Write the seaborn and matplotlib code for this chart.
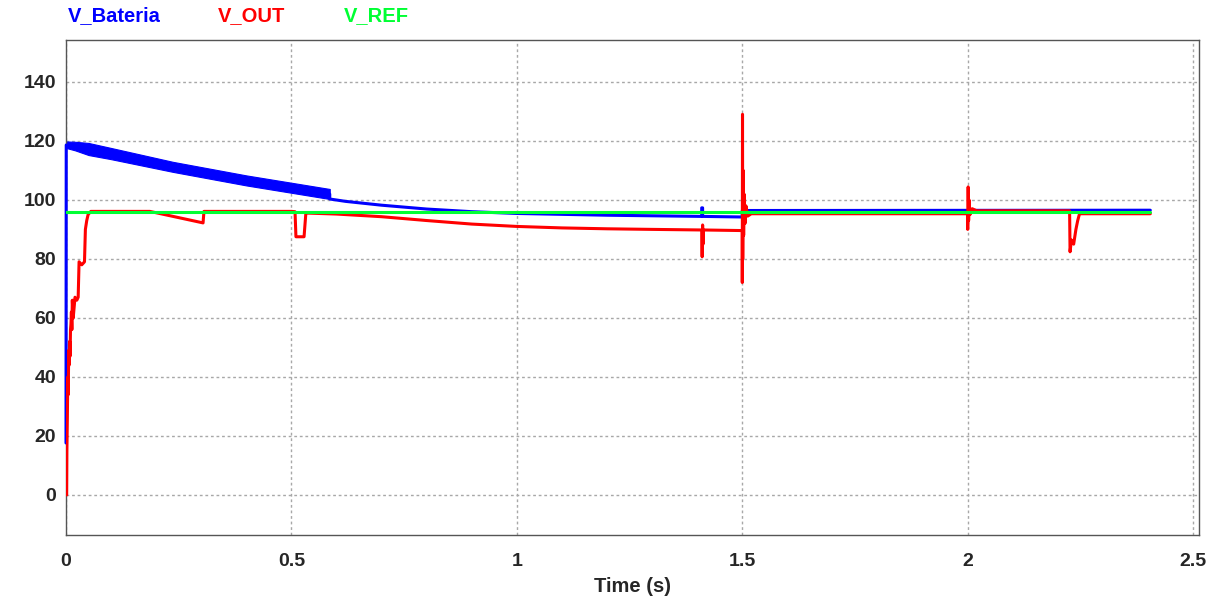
import matplotlib
matplotlib.use('Agg')
import matplotlib.pyplot as plt
import seaborn as sns
import pandas as pd

# V_Bateria: vertical start, ripple band (envelope), then smooth line
bat_t = [0, 0.0005, 0.585, 0.585, 0.62, 0.7, 0.8, 0.9, 1.0, 1.2, 1.41, 1.41, 1.412, 1.412, 1.5, 1.5, 2.405]
bat_v = [17.6, 118.6, 102.0, 100.3, 99.5, 98.2, 96.9, 96.0, 95.4, 94.8, 94.4, 97.3, 97.3, 94.4, 94.2, 96.4, 96.5]
band_t = [0.0005, 0.02, 0.05, 0.1, 0.237, 0.4, 0.585]
band_hi = [119.8, 119.7, 119.3, 117.6, 112.9, 108.3, 103.7]
band_lo = [117.6, 116.8, 115.2, 113.8, 109.5, 104.9, 100.3]

# V_OUT
out_t = [0, 0.0015, 0.002, 0.003, 0.004, 0.005, 0.006, 0.007, 0.008, 0.009, 0.010, 0.011,
         0.012, 0.013, 0.014, 0.016, 0.020, 0.024, 0.027, 0.029, 0.035, 0.041, 0.043, 0.046,
         0.049, 0.055,
         0.1, 0.186, 0.304, 0.306, 0.5, 0.508, 0.51, 0.528, 0.532, 0.54, 0.6, 0.7, 0.8, 0.9,
         1.0, 1.1, 1.2, 1.3, 1.41, 1.411, 1.412, 1.413, 1.414, 1.5,
         1.5, 1.5005, 1.501, 1.502, 1.503, 1.504, 1.506, 1.508, 1.512, 1.52,
         2.0, 2.0, 2.001, 2.002, 2.003, 2.005, 2.01, 2.02,
         2.226, 2.227, 2.23, 2.235, 2.24, 2.244, 2.248, 2.26, 2.405]
out_v = [0, 0, 15, 26, 40, 34, 49, 44, 52, 47, 56, 58,
         62, 56, 66, 60, 67, 66, 67, 79, 78, 79, 90, 93,
         95, 96.1,
         96.1, 96.1, 92.2, 96.1, 96.1, 96.0, 87.5, 87.5, 95.5, 95.5, 95.2, 94.3, 93.0, 91.8,
         91.0, 90.5, 90.2, 90.0, 89.8, 80.7, 91.5, 85.0, 89.8, 89.6,
         72.0, 129.0, 80.0, 110.0, 88.0, 102.0, 92.0, 98.0, 94.5, 95.3,
         95.3, 90.0, 104.4, 93.0, 100.0, 95.0, 97.0, 96.3,
         96.3, 82.4, 86.4, 85.0, 90.0, 93.0, 95.3, 95.3, 95.3]

# V_REF
ref_t = [0, 2.405]
ref_v = [96, 96]

y_ticks = [0, 20, 40, 60, 80, 100, 120, 140]
x_ticks = [0, 0.5, 1, 1.5, 2, 2.5]
x_labels = ['0', '0.5', '1', '1.5', '2', '2.5']

sns.set_style('white')
plt.rcParams['font.family'] = ['Liberation Sans', 'DejaVu Sans']
plt.rcParams['font.weight'] = 'bold'

fig = plt.figure(figsize=(12.09, 6.03), dpi=100)
ax = fig.add_axes([66 / 1209, 1 - 535 / 603, (1199 - 66) / 1209, (535 - 40) / 603])

blue, red, green = '#0000ff', '#ff0000', '#00ff33'

ax.fill_between(band_t, band_lo, band_hi, color=blue, linewidth=0.8)
sns.lineplot(data=pd.DataFrame({'t': bat_t, 'v': bat_v}), x='t', y='v', ax=ax,
             estimator=None, sort=False, color=blue, linewidth=2.2)
ax.lines[-1].set_clip_on(False)
ax.lines[-1].set_zorder(3)
sns.lineplot(data=pd.DataFrame({'t': out_t, 'v': out_v}), x='t', y='v', ax=ax,
             estimator=None, sort=False, color=red, linewidth=2.2)
ax.lines[-1].set_zorder(3)
sns.lineplot(data=pd.DataFrame({'t': ref_t, 'v': ref_v}), x='t', y='v', ax=ax,
             estimator=None, sort=False, color=green, linewidth=2.2)
ax.lines[-1].set_zorder(3)

ax.set_xlim(0, 2.513)
ax.set_ylim(-13.6, 154.2)
ax.set_xticks(x_ticks)
ax.set_xticklabels(x_labels)
ax.set_yticks(y_ticks)
ax.tick_params(axis='both', length=0, labelsize=14, pad=7)
ax.tick_params(axis='x', pad=13)
for lab in ax.get_xticklabels() + ax.get_yticklabels():
    lab.set_fontweight('bold')
ax.grid(True, color='#a8a8a8', linestyle=(0, (2, 2)), linewidth=1)
for s in ax.spines.values():
    s.set_color('#555555')
    s.set_linewidth(1)
ax.set_xlabel('Time (s)', fontsize=14.5, fontweight='bold', labelpad=5)
ax.set_ylabel('')

fig.text(68 / 1209, 1 - 16 / 603, 'V_Bateria', color=blue, fontsize=14.5, fontweight='bold', va='center')
fig.text(218 / 1209, 1 - 16 / 603, 'V_OUT', color=red, fontsize=14.5, fontweight='bold', va='center')
fig.text(344 / 1209, 1 - 16 / 603, 'V_REF', color=green, fontsize=14.5, fontweight='bold', va='center')

fig.savefig('out.png', dpi=100)
